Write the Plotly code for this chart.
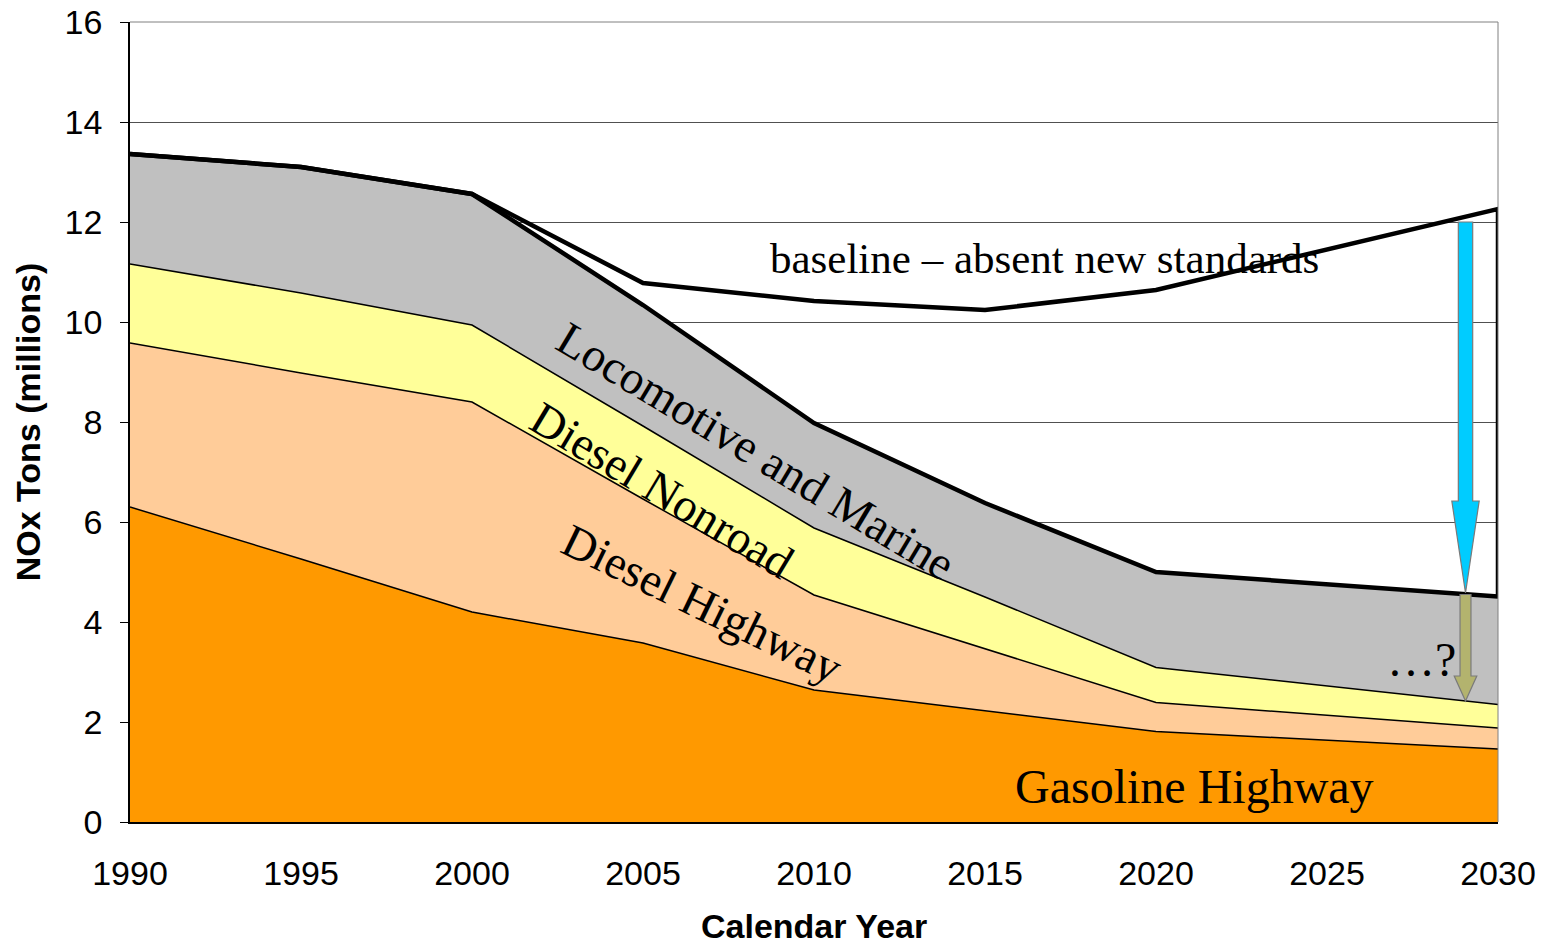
import plotly.graph_objects as go

# ---- data (millions of tons NOx) ----
years = [1990, 1995, 2000, 2005, 2010, 2015, 2020, 2030]
gasoline_highway = [6.30, 5.26, 4.20, 3.58, 2.64, 2.22, 1.81, 1.46]
diesel_highway = [3.28, 3.72, 4.20, 2.88, 1.90, 1.24, 0.58, 0.42]
diesel_nonroad = [1.58, 1.60, 1.54, 1.46, 1.34, 1.04, 0.70, 0.47]
locomotive_marine = [2.20, 2.52, 2.62, 2.42, 2.10, 1.88, 1.91, 2.16]
baseline = [13.36, 13.10, 12.56, 10.78, 10.42, 10.24, 10.64, 12.26]

x_ticks = [1990, 1995, 2000, 2005, 2010, 2015, 2020, 2025, 2030]
y_ticks = [0, 2, 4, 6, 8, 10, 12, 14, 16]

# arrow annotation values (year, top, head start, tip)
arrow_year = 2029.05
cyan_arrow = [12.0, 6.42, 4.58]
olive_arrow = [4.55, 2.92, 2.42]

SERIF = "Liberation Serif, Times New Roman, serif"
SANS = "Liberation Sans, Arial, sans-serif"

fig = go.Figure()

layers = [
    ("Gasoline Highway", gasoline_highway, "#FF9900", 1.5),
    ("Diesel Highway", diesel_highway, "#FFCC99", 1.5),
    ("Diesel Nonroad", diesel_nonroad, "#FFFF99", 1.5),
    ("Locomotive and Marine", locomotive_marine, "#C0C0C0", 4.5),
]
for name, vals, col, lw in layers:
    fig.add_trace(go.Scatter(
        x=years, y=vals, name=name, stackgroup="one", mode="lines",
        line=dict(color="black", width=lw), fillcolor=col,
        hoverinfo="x+y+name",
    ))

total_2030 = (gasoline_highway[-1] + diesel_highway[-1]
              + diesel_nonroad[-1] + locomotive_marine[-1])
fig.add_trace(go.Scatter(
    x=years + [years[-1]], y=baseline + [total_2030],
    mode="lines", line=dict(color="black", width=4.5), name="baseline",
))

shapes = []
# top/right plot border (gray)
shapes.append(dict(type="path", xref="paper", yref="paper",
                   path="M 0,1 L 1,1 L 1,0", line=dict(color="#808080", width=1),
                   layer="above"))


def arrow_path(xc, top, head, tip, sw, hw):
    return (f"M {xc-sw},{top} L {xc+sw},{top} L {xc+sw},{head} L {xc+hw},{head} "
            f"L {xc},{tip} L {xc-hw},{head} L {xc-sw},{head} Z")


shapes.append(dict(type="path", xref="x", yref="y",
                   path=arrow_path(arrow_year, *cyan_arrow, 0.21, 0.40),
                   fillcolor="#00CCFF", line=dict(color="#7a7a7a", width=1.2),
                   layer="above"))
shapes.append(dict(type="path", xref="x", yref="y",
                   path=arrow_path(arrow_year, *olive_arrow, 0.16, 0.33),
                   fillcolor="#B3B36E", line=dict(color="#7a7a7a", width=1.2),
                   layer="above"))

annotations = [
    dict(x=2016.75, y=11.28, text="baseline \u2013 absent new standards",
         font=dict(family=SERIF, size=43, color="black")),
    dict(x=2008.3, y=7.42, text="Locomotive and Marine", textangle=31,
         font=dict(family=SERIF, size=47, color="black")),
    dict(x=2005.55, y=6.64, text="Diesel Nonroad", textangle=31,
         font=dict(family=SERIF, size=47, color="black")),
    dict(x=2006.75, y=4.36, text="Diesel Highway", textangle=26,
         font=dict(family=SERIF, size=47, color="black")),
    dict(x=2021.14, y=0.72, text="Gasoline Highway",
         font=dict(family=SERIF, size=48, color="black")),
    dict(x=2027.75, y=3.26, text="\u2026?",
         font=dict(family=SERIF, size=48, color="black")),
]
for a in annotations:
    a.update(xref="x", yref="y", showarrow=False)

# x-axis title placed as a paper annotation for precise vertical placement
annotations.append(dict(xref="paper", yref="paper", x=0.5, y=0, yanchor="middle",
                        yshift=-104, showarrow=False, text="<b>Calendar Year</b>",
                        font=dict(family=SANS, size=34, color="black")))

fig.update_layout(
    width=1547, height=947,
    margin=dict(l=130, r=49, t=22, b=125),
    paper_bgcolor="white", plot_bgcolor="white",
    showlegend=False,
    shapes=shapes, annotations=annotations,
    font=dict(family=SANS, color="black"),
)
fig.update_xaxes(
    range=[1990, 2030], tickvals=x_ticks, ticktext=[str(t) for t in x_ticks],
    showgrid=False, zeroline=False, showline=True, linecolor="black", linewidth=1.5,
    ticks="", ticklabelstandoff=20, tickfont=dict(family=SANS, size=34),
    automargin=False, ticklabeloverflow="allow",
)
fig.update_yaxes(
    range=[0, 16], tickvals=y_ticks, ticktext=[str(t) for t in y_ticks],
    showgrid=True, gridcolor="#505050", gridwidth=1, zeroline=False,
    showline=True, linecolor="black", linewidth=1.5,
    ticks="outside", ticklen=8, tickcolor="black", tickwidth=1,
    ticklabelstandoff=11, tickfont=dict(family=SANS, size=34),
    automargin=False, ticklabeloverflow="allow",
    title=dict(text="<b>NOx Tons (millions)</b>", font=dict(family=SANS, size=34), standoff=14),
)

fig.write_html(
    "out.html",
    config={"displayModeBar": False},
    post_script="document.body.style.margin='0';document.body.style.overflow='hidden';",
)
